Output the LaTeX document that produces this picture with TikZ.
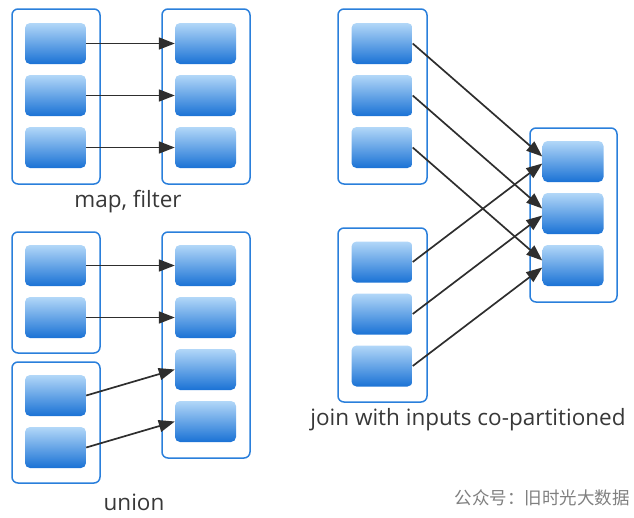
\documentclass[tikz,border=0pt]{standalone}
\usetikzlibrary{arrows.meta}
\usepackage{xcolor}
\usepackage{fontspec}
\setmainfont{Open Sans}
\newfontfamily\cjkfont{Noto Sans CJK SC}

\definecolor{grpblue}{HTML}{2A7FDB}
\definecolor{parttop}{HTML}{B2D7F8}
\definecolor{partbot}{HTML}{1A72D5}
\definecolor{linkgray}{HTML}{2E2E2E}

\tikzset{
  group/.style={draw=grpblue, line width=1.5, rounded corners=6, minimum width=88, minimum height=175, inner sep=0},
  part/.style={rounded corners=5, top color=parttop, bottom color=partbot, minimum width=61, minimum height=41, inner sep=0},
  link/.style={draw=linkgray, line width=1.7, -{Triangle[length=16, width=12]}},
  caption/.style={font=\fontsize{22.5}{26}\selectfont, text=black!78, inner sep=0}
}

\begin{document}
\begin{tikzpicture}[x=1pt, y=-1pt]
        \useasboundingbox (0,0) rectangle (634,517);

        % map, filter
        \node[group] (mapin) at (56,96.5) {};
        \node[group] (mapout) at (206,96.5) {};
        \foreach \i/\y in {1/43.5, 2/95.5, 3/147.5} {
            \node[part] (mapin\i) at (55.5,\y) {};
            \node[part] (mapout\i) at (205.5,\y) {};
        }
        \path
            (mapin1) edge[link] (mapout1)
            (mapin2) edge[link] (mapout2)
            (mapin3) edge[link] (mapout3);
        \node[caption] (maplabel) at (128,202) {map, filter};

        % union
        \node[group, minimum height=121] (uniona) at (56,292.5) {};
        \node[group, minimum height=121] (unionb) at (56,422.5) {};
        \node[group, minimum height=226] (unionc) at (206,345) {};
        \node[part] (uniona1) at (55.5,265.5) {};
        \node[part] (uniona2) at (55.5,317.5) {};
        \node[part] (unionb1) at (55.5,395.5) {};
        \node[part] (unionb2) at (55.5,447.5) {};
        \foreach \i/\y in {1/265.5, 2/317.5, 3/369.5, 4/421.5}
            \node[part] (unionc\i) at (205.5,\y) {};
        \path
            (uniona1) edge[link] (unionc1)
            (uniona2) edge[link] (unionc2)
            (unionb1.east) edge[link] (unionc3.west)
            (unionb2.east) edge[link] (unionc4.west);
        \node[caption] (unionlabel) at (134,502.5) {union};

        % join
        \node[group, minimum width=89] (joina) at (382.5,96.5) {};
        \node[group, minimum width=89, minimum height=174] (joinb) at (382.5,315) {};
        \node[group, minimum width=87, minimum height=174] (joinc) at (573.5,215) {};
        \foreach \i/\ya/\yb/\yc in {1/43.5/262/161.5, 2/95.5/314/213.5, 3/147.5/366/265.5} {
            \node[part] (joina\i) at (382,\ya) {};
            \node[part] (joinb\i) at (382,\yb) {};
            \node[part] (joinc\i) at (573,\yc) {};
        }
        \foreach \i in {1,2,3}
            \path
                (joina\i.east) edge[link] ([yshift=5]joinc\i.west)
                (joinb\i.east) edge[link] ([yshift=-2]joinc\i.west);
        \node[caption] (joinlabel) at (468,420) {join with inputs co-partitioned};

        % watermark
        \node[font=\cjkfont\fontsize{17.5}{20}\selectfont, text=black!50, inner sep=0] (mark) at (542,498) {公众号：旧时光大数据};

        \end{tikzpicture}
\end{document}
